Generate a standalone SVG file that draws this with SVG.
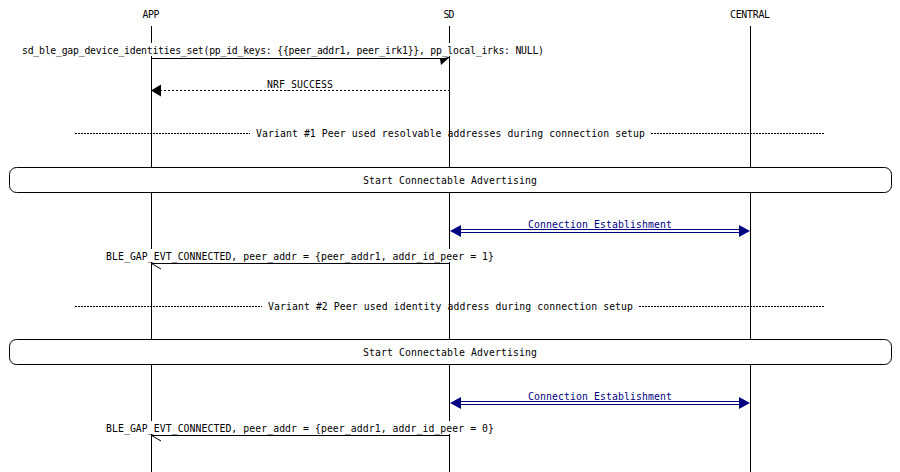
<svg xmlns="http://www.w3.org/2000/svg" width="900" height="472" viewBox="0 0 900 472">
<style>
text{font-family:"DejaVu Sans Mono","Liberation Mono",monospace;font-size:9.8px;fill:#000;text-anchor:middle}
.life{stroke:#000;stroke-width:1}
.msg{stroke:#000;stroke-width:1;fill:none}
.dash{stroke:#000;stroke-width:1;stroke-dasharray:2 2;fill:none}
.sep{stroke:#000;stroke-width:1;stroke-dasharray:2 1;fill:none}
.dbl{stroke:#000080;stroke-width:1;fill:none}
.nv{fill:#000080}
.bg{fill:#fff}
.box{fill:#fff;stroke:#000;stroke-width:1}
</style>
<rect width="900" height="472" fill="#fff"/>
<g id="APP"><text x="151" y="17.5" textLength="17">APP</text><line class="life" x1="151.5" y1="26" x2="151.5" y2="472"/></g>
<g id="SD"><text x="449" y="17.5" textLength="11">SD</text><line class="life" x1="449.5" y1="26" x2="449.5" y2="472"/></g>
<g id="CENTRAL"><text x="750" y="17.5" textLength="40">CENTRAL</text><line class="life" x1="750.5" y1="26" x2="750.5" y2="472"/></g>
<g id="sep1">
<line class="sep" x1="75" y1="133.5" x2="250" y2="133.5"/>
<line class="sep" x1="651" y1="133.5" x2="825" y2="133.5"/>
<text x="450.5" y="137" textLength="389">Variant #1 Peer used resolvable addresses during connection setup</text>
</g>
<g id="box1"><rect class="box" x="9.5" y="167.5" width="882" height="25" rx="7"/><text x="450" y="183.5" textLength="174">Start Connectable Advertising</text></g>
<g id="sep2">
<line class="sep" x1="75" y1="306.5" x2="262" y2="306.5"/>
<line class="sep" x1="639" y1="306.5" x2="825" y2="306.5"/>
<text x="450.5" y="309.5" textLength="365">Variant #2 Peer used identity address during connection setup</text>
</g>
<g id="box2"><rect class="box" x="9.5" y="339.5" width="882" height="25" rx="7"/><text x="450" y="355.5" textLength="174">Start Connectable Advertising</text></g>
<g id="connectors">
<g id="m1">
<rect class="bg" x="21" y="43" width="524" height="13"/>
<line class="msg" x1="151" y1="58.5" x2="444" y2="58.5"/>
<polygon points="440,59 450.5,56.5 441,65"/>
<text x="283" y="53.5" textLength="522">sd_ble_gap_device_identities_set(pp_id_keys: {{peer_addr1, peer_irk1}}, pp_local_irks: NULL)</text>
</g>
<g id="m2">
<line class="dash" x1="160" y1="90.5" x2="449" y2="90.5"/>
<polygon points="151,90.5 161,84.5 161,96.5"/>
<text x="300" y="87.5" textLength="66">NRF_SUCCESS</text>
</g>
<g id="m3">
<line class="dbl" x1="458" y1="229.5" x2="741" y2="229.5"/>
<line class="dbl" x1="458" y1="232.5" x2="741" y2="232.5"/>
<polygon class="nv" points="450,231 461,225 461,237"/>
<polygon class="nv" points="750,231 739,225 739,237"/>
<text x="600" y="227.5" textLength="144" style="fill:#000080">Connection Establishment</text>
</g>
<g id="m4">
<line class="msg" x1="151" y1="263.5" x2="449" y2="263.5"/>
<line class="msg" x1="151.5" y1="263.5" x2="161" y2="269"/>
<rect class="bg" x="105" y="249" width="390" height="13"/>
<text x="300" y="259.5" textLength="388">BLE_GAP_EVT_CONNECTED, peer_addr = {peer_addr1, addr_id_peer = 1}</text>
</g>
<g id="m5">
<line class="dbl" x1="458" y1="401.5" x2="741" y2="401.5"/>
<line class="dbl" x1="458" y1="404.5" x2="741" y2="404.5"/>
<polygon class="nv" points="450,403 461,397 461,409"/>
<polygon class="nv" points="750,403 739,397 739,409"/>
<text x="600" y="399.5" textLength="144" style="fill:#000080">Connection Establishment</text>
</g>
<g id="m6">
<line class="msg" x1="151" y1="435.5" x2="449" y2="435.5"/>
<line class="msg" x1="151.5" y1="435.5" x2="161" y2="441"/>
<rect class="bg" x="105" y="421" width="390" height="13"/>
<text x="300" y="431.5" textLength="388">BLE_GAP_EVT_CONNECTED, peer_addr = {peer_addr1, addr_id_peer = 0}</text>
</g>
</g>
</svg>
